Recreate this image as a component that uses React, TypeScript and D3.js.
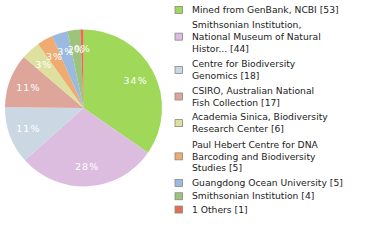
import React from "react";
import * as d3 from "d3";

const names: string[] = [
  "Mined from GenBank, NCBI",
  "Smithsonian Institution, National Museum of Natural Histor...",
  "Centre for Biodiversity Genomics",
  "CSIRO, Australian National Fish Collection",
  "Academia Sinica, Biodiversity Research Center",
  "Paul Hebert Centre for DNA Barcoding and Biodiversity Studies",
  "Guangdong Ocean University",
  "Smithsonian Institution",
  "1 Others",
];
const counts: number[] = [53, 44, 18, 17, 6, 5, 5, 4, 1];
const legendLines: string[][] = [
  ["Mined from GenBank, NCBI [53]"],
  ["Smithsonian Institution,", "National Museum of Natural", "Histor... [44]"],
  ["Centre for Biodiversity", "Genomics [18]"],
  ["CSIRO, Australian National", "Fish Collection [17]"],
  ["Academia Sinica, Biodiversity", "Research Center [6]"],
  ["Paul Hebert Centre for DNA", "Barcoding and Biodiversity", "Studies [5]"],
  ["Guangdong Ocean University [5]"],
  ["Smithsonian Institution [4]"],
  ["1 Others [1]"],
];
const colors: string[] = [
  "#a0d95a",
  "#dcbde0",
  "#cbd8e3",
  "#dea69b",
  "#dee0a0",
  "#efab70",
  "#9cbae0",
  "#9cc47a",
  "#e07050",
];

export default function App() {
  const W = 380;
  const H = 240;
  const cx = 83.5;
  const cy = 108;
  const r = 78.5;
  const total = d3.sum(counts);
  const data = counts.map((v, i) => ({ v, i, name: names[i] }));
  const pie = d3
    .pie<{ v: number; i: number; name: string }>()
    .value((d) => d.v)
    .sort(null)
    .startAngle(0)
    .endAngle(2 * Math.PI);
  const arcs = pie(data);
  const arc = d3.arc<any>().innerRadius(0).outerRadius(r);
  const labelArc = d3.arc<any>().innerRadius(r * 0.75).outerRadius(r * 0.75);
  const color = d3.scaleOrdinal<number, string>().domain(d3.range(counts.length)).range(colors);

  // legend layout
  const slot = 13.3;
  const lineH = 11.9;
  let y0 = 3.4;
  const legendItems = legendLines.map((lines, i) => {
    const h = lines.length * slot;
    const c = y0 + h / 2;
    y0 += h;
    return { lines, i, c };
  });

  return (
    <svg
      width={W}
      height={H}
      style={{ position: "absolute", left: 0, top: 0 }}
      fontFamily="DejaVu Sans"
    >
      <rect width={W} height={H} fill="#fff" />
      <g transform={`translate(${cx},${cy})`}>
        {arcs.map((a, k) => (
          <path key={k} d={arc(a) as string} fill={color(a.data.i)} />
        ))}
        {arcs.map((a, k) => {
          const [x, y] = labelArc.centroid(a);
          const pct = Math.floor((a.data.v / total) * 100);
          return (
            <text
              key={k}
              x={x}
              y={y}
              dy="0.35em"
              textAnchor="middle"
              fill="#fff"
              fontSize={9.5}
              letterSpacing={1}
            >
              {pct + "%"}
            </text>
          );
        })}
      </g>
      <g>
        {legendItems.map((it) => (
          <g key={it.i}>
            <rect
              x={175}
              y={it.c - 3.5}
              width={7.5}
              height={7}
              fill={color(it.i)}
              stroke="#888"
              strokeWidth={0.8}
            />
            {it.lines.map((ln, j) => (
              <text
                key={j}
                x={192}
                y={it.c + (j - (it.lines.length - 1) / 2) * lineH + 3.2}
                fontSize={9.2}
                fill="#222"
              >
                {ln}
              </text>
            ))}
          </g>
        ))}
      </g>
    </svg>
  );
}
